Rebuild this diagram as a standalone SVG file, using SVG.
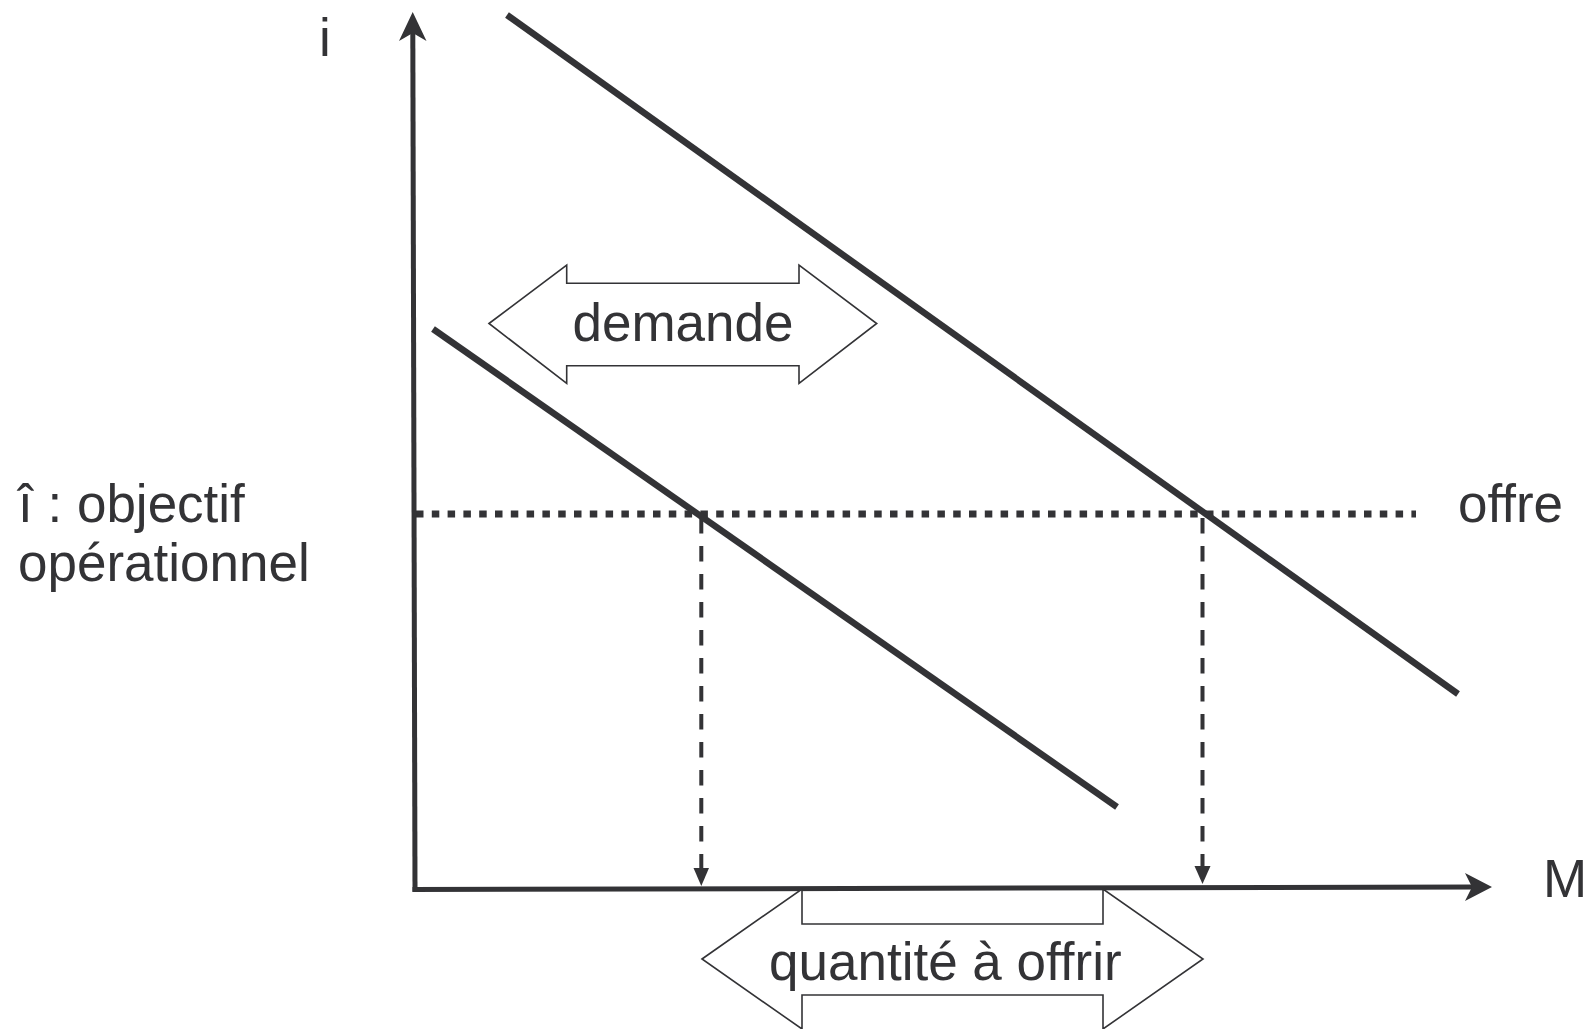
<svg xmlns="http://www.w3.org/2000/svg" width="1588" height="1029" viewBox="0 0 1588 1029">
<style>
  .t { font-family: "Liberation Sans", Arial, sans-serif; font-size: 53px; fill: #333336; }
  .curve { stroke: #333336; stroke-width: 6.5; fill: none; }
  .axis { stroke: #333336; stroke-width: 5; fill: none; }
  .dot { stroke: #333336; stroke-width: 7; stroke-dasharray: 7.5 8.3; fill: none; }
  .dash { stroke: #333336; stroke-width: 4; stroke-dasharray: 15.5 12.5; fill: none; }
  .big { fill: #ffffff; stroke: #333336; stroke-width: 1.6; }
  .head { fill: #333336; }
</style>
<rect width="1588" height="1029" fill="#ffffff"/>
<g id="connectors">
  <line class="dot" x1="416" y1="514" x2="1416" y2="514"/>
  <line class="dash" x1="701.3" y1="518" x2="701.3" y2="872"/>
  <polygon class="head" points="693.5,868 709,868 701.3,886"/>
  <line class="dash" x1="1202.5" y1="518" x2="1202.5" y2="870"/>
  <polygon class="head" points="1194.5,866 1210.5,866 1202.5,884"/>
  <line class="curve" x1="507" y1="15" x2="1458" y2="694"/>
  <line class="curve" x1="433" y1="329" x2="1117" y2="807"/>
  <line class="axis" x1="412.8" y1="30" x2="415" y2="891.8"/>
  <polygon class="head" points="412.7,12 426.5,41 412.8,33 399,41"/>
  <line class="axis" x1="412.5" y1="889.5" x2="1475" y2="887"/>
  <polygon class="head" points="1492,887 1465,901 1472,887 1465,873"/>
</g>
<g id="demande">
  <polygon class="big" points="489,323.5 566.7,265 566.7,283.3 799,283.3 799,265 876.7,323.5 799,383.3 799,365.7 566.7,365.7 566.7,383.3"/>
  <text class="t" x="683" y="341" text-anchor="middle">demande</text>
</g>
<g id="quantite">
  <polygon class="big" points="702,959 802,889 802,924 1103,924 1103,889 1203,959 1103,1029 1103,995 802,995 802,1029"/>
  <text class="t" x="769" y="980">quantité à offrir</text>
</g>
<g id="labels">
  <text class="t" x="325" y="56" text-anchor="middle">i</text>
  <text class="t" x="1543" y="897">M</text>
  <text class="t" x="1458" y="522">offre</text>
  <text class="t" x="18" y="522">î : objectif</text>
  <text class="t" x="18" y="581">opérationnel</text>
</g>
</svg>
